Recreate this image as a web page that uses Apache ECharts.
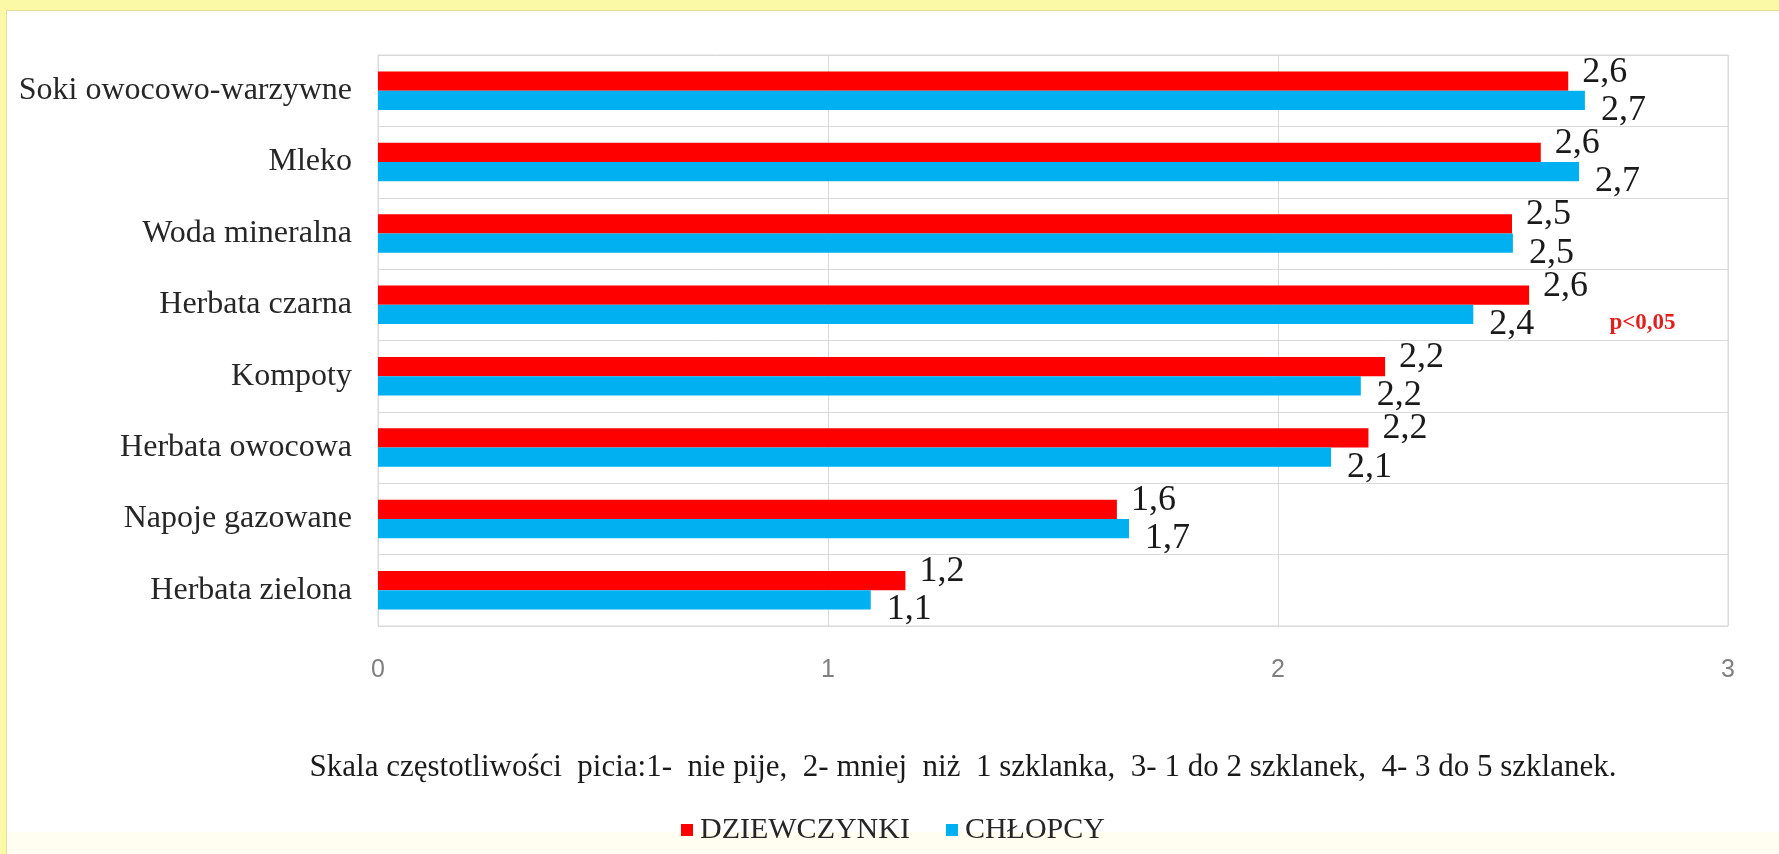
<!DOCTYPE html>
<html lang="pl">
<head>
<meta charset="utf-8">
<title>Częstotliwość picia napojów</title>
<script src="https://cdn.jsdelivr.net/npm/echarts@6/dist/echarts.min.js"></script>
<style>
  html, body { margin: 0; padding: 0; }
  body { width: 1779px; height: 854px; background: #fbf8a6; position: relative; overflow: hidden; }
  #panel {
    position: absolute; left: 6px; top: 10px; right: 0; bottom: 0;
    background: #ffffff;
    border-left: 1px solid #e4e19c; border-top: 1px solid #e4e19c;
  }
  #foot { position: absolute; left: 7px; right: 0; bottom: 0; height: 22px; background: #fffef0; }
  #chart { position: absolute; left: 0; top: 0; width: 1779px; height: 854px; }
</style>
</head>
<body>
<div id="panel"></div>
<div id="foot"></div>
<div id="chart"></div>
<script>
// Drinks, listed top to bottom
const categories = [
  'Soki owocowo-warzywne',
  'Mleko',
  'Woda mineralna',
  'Herbata czarna',
  'Kompoty',
  'Herbata owocowa',
  'Napoje gazowane',
  'Herbata zielona'
];

// Mean drinking-frequency score per group
const girls = [2.645, 2.584, 2.520, 2.558, 2.238, 2.201, 1.642, 1.172];
const boys  = [2.682, 2.669, 2.522, 2.434, 2.184, 2.118, 1.669, 1.095];

const seriesNames = ['DZIEWCZYNKI', 'CHŁOPCY'];
const xTicks = [0, 1, 2, 3];

const scaleNote = 'Skala częstotliwości  picia:1-  nie pije,  2- mniej  niż  1 szklanka,  3- 1 do 2 szklanek,  4- 3 do 5 szklanek.';
const significanceNote = 'p<0,05';
const significantCategory = 'Herbata czarna';

const SERIF = '"Liberation Serif", "DejaVu Serif", serif';
const fmt = p => p.value.toFixed(1).replace('.', ',');

const chart = echarts.init(document.getElementById('chart'), null, { renderer: 'canvas' });

const option = {
  backgroundColor: 'transparent',
  animation: false,
  grid: {
    left: 378, right: 51, top: 55, bottom: 228,
    show: true, borderColor: '#d9d9d9', borderWidth: 1, backgroundColor: 'transparent'
  },
  xAxis: {
    type: 'value',
    min: xTicks[0], max: xTicks[xTicks.length - 1], interval: 1,
    axisLine: { show: false },
    axisTick: { show: false },
    splitLine: { show: true, lineStyle: { color: '#d9d9d9', width: 1 } },
    axisLabel: {
      margin: 32, color: '#7f7f7f', fontSize: 25,
      fontFamily: '"Liberation Sans", "DejaVu Sans", sans-serif'
    }
  },
  yAxis: {
    type: 'category',
    data: categories,
    inverse: true,
    axisLine: { show: true, lineStyle: { color: '#d9d9d9' } },
    axisTick: { show: false },
    splitLine: { show: true, lineStyle: { color: '#d9d9d9', width: 1 } },
    axisLabel: { margin: 26, color: '#262626', fontSize: 32, fontFamily: SERIF }
  },
  legend: {
    data: seriesNames,
    left: 681, top: 815, padding: 0,
    icon: 'rect', itemWidth: 12, itemHeight: 12, itemGap: 36,
    textStyle: { color: '#262626', fontSize: 30, fontFamily: SERIF, padding: [0, 0, 0, 2] }
  },
  series: [
    {
      name: seriesNames[0], type: 'bar', data: girls,
      barGap: '0%', barCategoryGap: '46%',
      itemStyle: { color: '#ff0000' },
      label: {
        show: true, position: 'right', distance: 14, offset: [0, -9],
        formatter: fmt, color: '#1a1a1a', fontSize: 36, fontFamily: SERIF
      }
    },
    {
      name: seriesNames[1], type: 'bar', data: boys,
      barGap: '0%', barCategoryGap: '46%',
      itemStyle: { color: '#00b0f0' },
      label: {
        show: true, position: 'right', distance: 16, offset: [0, 10],
        formatter: fmt, color: '#1a1a1a', fontSize: 36, fontFamily: SERIF
      }
    }
  ],
  graphic: [
    {
      type: 'text', id: 'scale-note', x: 963, y: 768,
      style: {
        text: scaleNote, fill: '#1a1a1a', fontSize: 31, fontFamily: SERIF,
        textAlign: 'center', textVerticalAlign: 'middle'
      }
    }
  ]
};

chart.setOption(option);

// Significance marker placed beside the black-tea bars, in axis coordinates
const pos = chart.convertToPixel({ xAxisIndex: 0, yAxisIndex: 0 }, [2.81, significantCategory]);
chart.setOption({
  graphic: [
    {
      type: 'text', id: 'significance', x: pos[0], y: pos[1] + 18,
      style: {
        text: significanceNote, fill: '#e0201e', fontSize: 23, fontWeight: 'bold',
        fontFamily: SERIF, textAlign: 'center', textVerticalAlign: 'middle'
      }
    }
  ]
});
</script>
</body>
</html>
